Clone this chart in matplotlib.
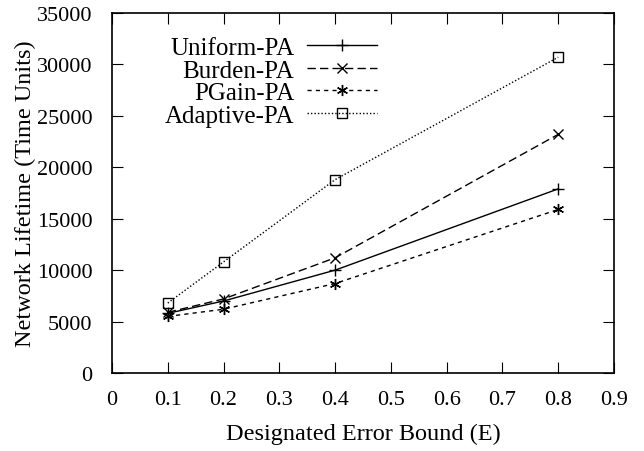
import numpy as np
import matplotlib
matplotlib.use('Agg')
import matplotlib.pyplot as plt

plt.rcParams['font.family'] = ['Liberation Serif', 'DejaVu Serif']

error_bound = [0.1, 0.2, 0.4, 0.8]
uniform_pa = [5800, 7000, 10000, 17900]
burden_pa = [5900, 7200, 11200, 23200]
pgain_pa = [5500, 6200, 8700, 15900]
adaptive_pa = [6800, 10800, 18800, 30700]

fig = plt.figure(figsize=(6.44, 4.52), dpi=100)
ax = fig.add_axes([112/644, 1 - 374/452, 502/644, 360/452])

ax.plot(error_bound, uniform_pa, color='black', lw=1, ls='-', marker='+', ms=8.5, mew=1, label='Uniform-PA')
ax.plot(error_bound, burden_pa, color='black', lw=1, ls=(0, (6, 3)), marker='x', ms=7, mew=1, label='Burden-PA')
ax.plot(error_bound, pgain_pa, color='black', lw=1, ls=(0, (3, 3)), marker=(6, 2, 0), ms=8, mew=1, label='PGain-PA')
ax.plot(error_bound, adaptive_pa, color='black', lw=1, ls=(0, (1, 1.5)), marker='s', ms=7, mew=1, mfc='none', label='Adaptive-PA')

ax.set_xlim(0, 0.9)
ax.set_ylim(0, 35000)
ax.set_xticks(np.arange(0, 0.91, 0.1))
ax.set_xticklabels(['0', '0.1', '0.2', '0.3', '0.4', '0.5', '0.6', '0.7', '0.8', '0.9'])
ax.set_yticks(np.arange(0, 35001, 5000))
ax.tick_params(direction='in', top=True, right=True, length=8, labelsize=16)
ax.tick_params(axis='x', pad=12)
ax.tick_params(axis='y', pad=14)
for s in ax.spines.values():
    s.set_linewidth(1.2)

ax.set_xlabel('Designated Error Bound (E)', fontsize=17.5, labelpad=10)
ax.set_ylabel('Network Lifetime (Time Units)', fontsize=17.5, labelpad=1)

leg = ax.legend(loc='upper left', bbox_to_anchor=(0.06, 0.997), frameon=False, markerfirst=False,
                fontsize=18, handlelength=2.8, labelspacing=0.0, handletextpad=0.5)
for t in leg.get_texts():
    t.set_ha('right')
leg._legend_box.align = 'right'

fig.savefig('out.png', dpi=100)
